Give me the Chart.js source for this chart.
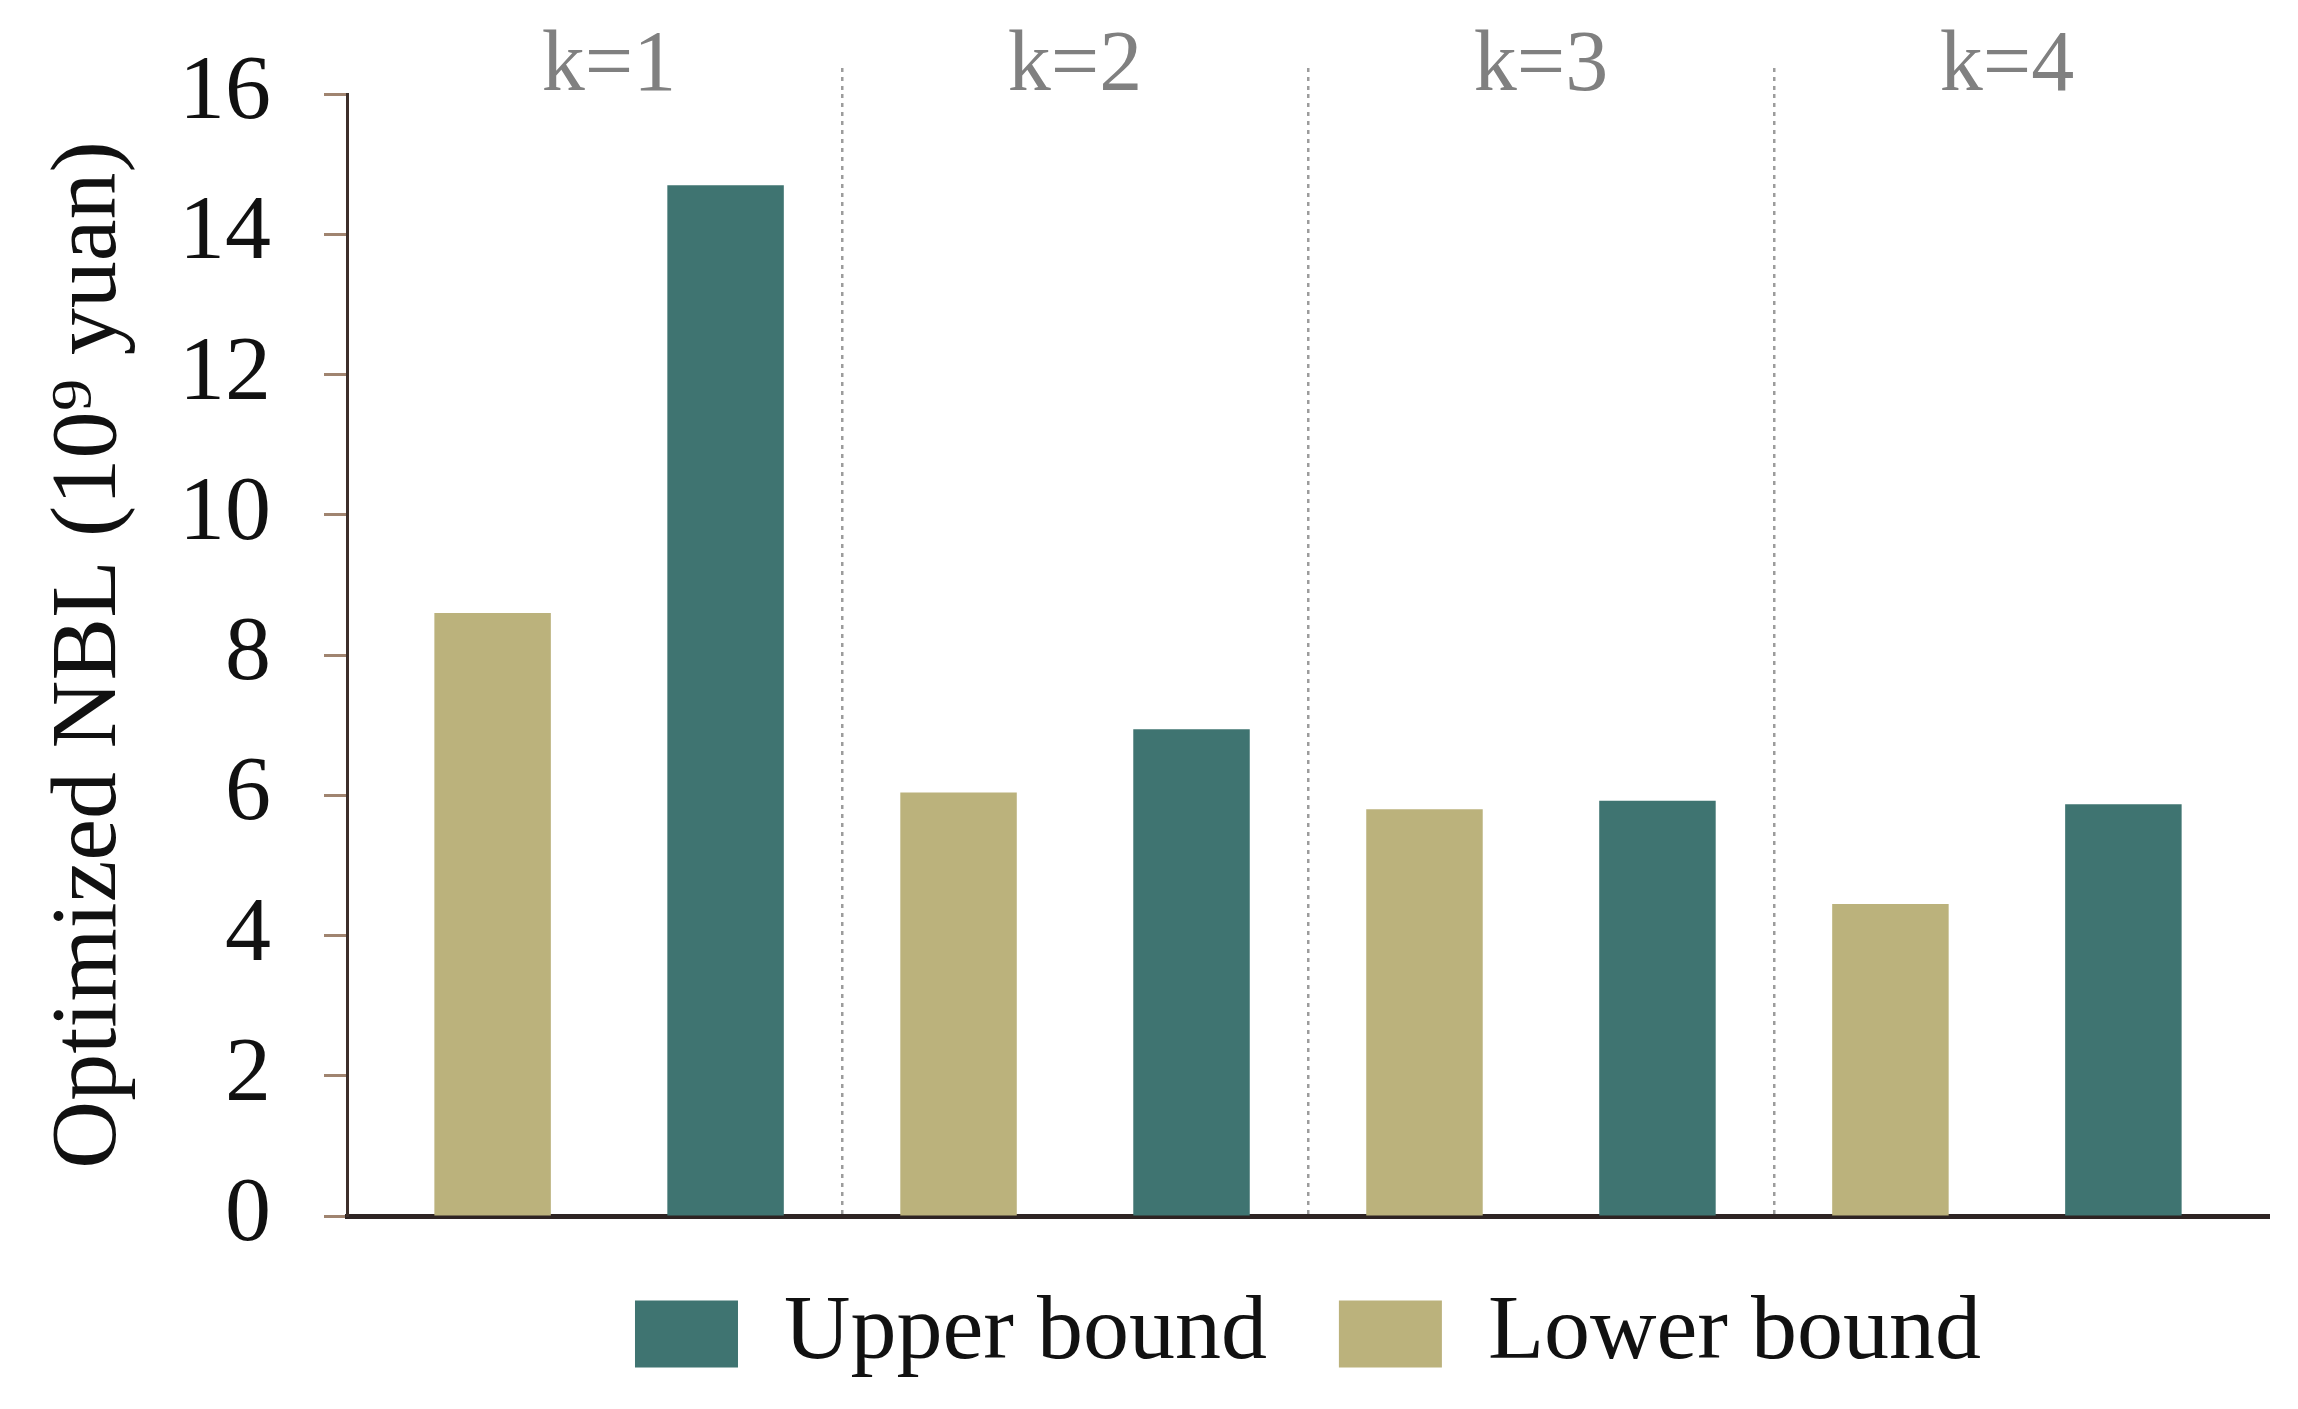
<!DOCTYPE html>
<html>
<head>
<meta charset="utf-8">
<script src="https://cdn.jsdelivr.net/npm/chart.js@4.4.1/dist/chart.umd.min.js"></script>
<style>
  html, body { margin: 0; padding: 0; background: #fff; }
</style>
</head>
<body>
<canvas id="chart" width="2298" height="1409"></canvas>
<script>
// values
const groupLabels = ['k=1', 'k=2', 'k=3', 'k=4'];
const lowerBound = [8.6, 6.04, 5.8, 4.45];
const upperBound = [14.7, 6.94, 5.92, 5.87];
const yTicks = [0, 2, 4, 6, 8, 10, 12, 14, 16];

const serif = '"Liberation Serif", "Times New Roman", serif';
const toPoints = vals => vals.map((v, i) => ({ x: i, y: v }));
const groupTicks = s => { s.ticks = groupLabels.map((_, i) => ({ value: i })); };

// hide the divider lines outside the first/last group
const dividerColor = c => (c.index === undefined || c.index === 0) ? 'rgba(0,0,0,0)' : '#9c9c9c';

new Chart(document.getElementById('chart'), {
  type: 'bar',
  data: {
    datasets: [
      { label: 'Lower bound', data: toPoints(lowerBound), backgroundColor: '#bbb27c', borderWidth: 0 },
      { label: 'Upper bound', data: toPoints(upperBound), backgroundColor: '#3f7471', borderWidth: 0 }
    ]
  },
  options: {
    responsive: false,
    animation: false,
    categoryPercentage: 1,
    barPercentage: 0.5,
    layout: { padding: { top: 0, right: 29, bottom: 19, left: 0 } },
    scales: {
      x: {
        type: 'linear',
        offset: false,
        min: -0.5625,
        max: 3.5625,
        afterBuildTicks: groupTicks,
        ticks: { display: false },
        grid: { display: false, drawTicks: false },
        border: { display: true, color: '#2e2423', width: 5 },
        afterFit: s => { s.height = 0; }
      },
      x2: {
        type: 'linear',
        position: 'top',
        offset: false,
        min: -0.5625,
        max: 3.5625,
        afterBuildTicks: groupTicks,
        ticks: {
          callback: (v, i) => groupLabels[i],
          font: { family: serif, size: 86 },
          color: '#808080',
          padding: -51,
          maxRotation: 0,
          autoSkip: false
        },
        grid: {
          offset: true,
          color: dividerColor,
          tickColor: dividerColor,
          lineWidth: 2.5,
          tickWidth: 2.5,
          tickLength: 26,
          tickBorderDash: [4, 5]
        },
        border: { display: false, dash: [4, 5] },
        afterFit: s => { s.height = 94; }
      },
      y: {
        min: 0,
        max: 16,
        afterBuildTicks: s => { s.ticks = yTicks.map(v => ({ value: v })); },
        ticks: { font: { family: serif, size: 92, lineHeight: 0.4 }, color: '#111', padding: 53 },
        grid: { drawOnChartArea: false, drawTicks: true, tickLength: 23, tickColor: '#a08470', tickWidth: 3 },
        border: { color: '#3d2f2a', width: 3 },
        title: {
          display: true,
          text: 'Optimized NBL (10⁹ yuan)',
          font: { family: serif, size: 94, lineHeight: 1 },
          color: '#111',
          padding: { top: 43, bottom: 0 }
        },
        afterFit: s => { s.width = 347; }
      }
    },
    plugins: {
      tooltip: { enabled: false },
      legend: {
        position: 'bottom',
        reverse: true,
        fullSize: false,
        labels: {
          font: { family: serif, size: 92 },
          color: '#111',
          boxWidth: 103,
          boxHeight: 67,
          padding: 72
        }
      }
    }
  }
});
</script>
</body>
</html>
